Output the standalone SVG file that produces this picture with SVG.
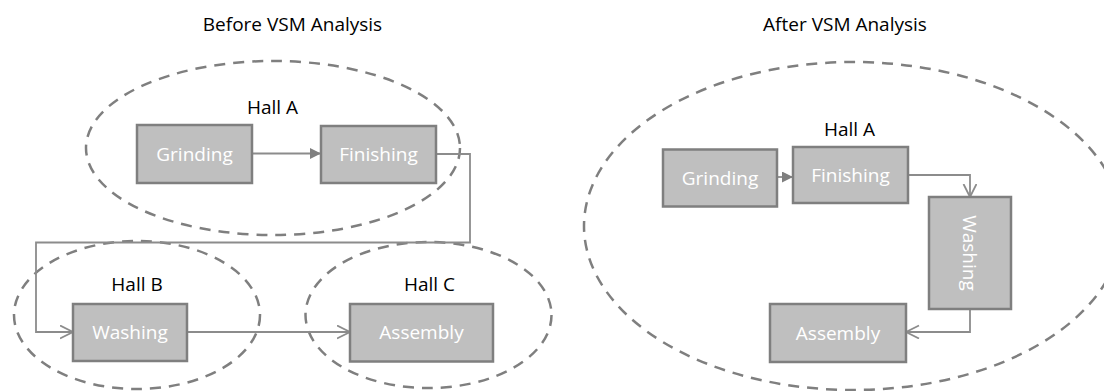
<svg xmlns="http://www.w3.org/2000/svg" width="1104" height="391" viewBox="0 0 1104 391">
<style>
text{font-family:"Open Sans","Noto Sans","Liberation Sans",sans-serif;font-size:19px;text-anchor:middle}
.title,.hall{fill:#000}
.lbl{fill:#ffffff}
.box{fill:#BFBFBF;stroke:#7F7F7F;stroke-width:2.5}
.zone{fill:none;stroke:#7F7F7F;stroke-width:2.5;stroke-dasharray:11 8}
.conn{fill:none;stroke:#8C8C8C;stroke-width:1.8}
</style>
<defs>
<marker id="tri" markerUnits="userSpaceOnUse" markerWidth="12" markerHeight="12" refX="11" refY="5.5" orient="auto">
<path d="M0,0 L11,5.5 L0,11 z" fill="#7F7F7F"/>
</marker>
<marker id="vee" markerUnits="userSpaceOnUse" markerWidth="16" markerHeight="16" refX="13.5" refY="7" orient="auto">
<path d="M0.5,0.5 L13.5,7 L0.5,13.5" fill="none" stroke="#8C8C8C" stroke-width="1.8"/>
</marker>
</defs>
<rect width="1104" height="391" fill="#ffffff"/>

<g id="titles">
<text class="title" x="292.5" y="31">Before VSM Analysis</text>
<text class="title" x="845" y="31">After VSM Analysis</text>
</g>

<g id="hall-a-before">
<ellipse class="zone" cx="273" cy="148" rx="187" ry="87"/>
<text class="hall" x="272.5" y="114">Hall A</text>
</g>
<g id="hall-b-before">
<ellipse class="zone" cx="137" cy="315" rx="123" ry="74"/>
<text class="hall" x="137" y="291">Hall B</text>
</g>
<g id="hall-c-before">
<ellipse class="zone" cx="428.5" cy="315" rx="123" ry="73"/>
<text class="hall" x="429.5" y="291">Hall C</text>
</g>
<g id="hall-a-after">
<ellipse class="zone" cx="853" cy="226" rx="269" ry="164"/>
<text class="hall" x="849.5" y="136">Hall A</text>
</g>

<g id="connectors">
<path class="conn" d="M252,153.5 H321" marker-end="url(#tri)"/>
<path class="conn" d="M436,154 H470 V242.5 H36 V332 H73" marker-end="url(#vee)"/>
<path class="conn" d="M187,332 H350" marker-end="url(#vee)"/>
<path class="conn" d="M777,177 H793" marker-end="url(#tri)"/>
<path class="conn" d="M908,175 H970 V197" marker-end="url(#vee)"/>
<path class="conn" d="M970,309 V332 H906" marker-end="url(#vee)"/>
</g>

<g id="grinding-before">
<rect class="box" x="137" y="125" width="115" height="58"/>
<text class="lbl" x="194.5" y="161">Grinding</text>
</g>
<g id="finishing-before">
<rect class="box" x="321" y="126" width="115" height="57"/>
<text class="lbl" x="378.5" y="161">Finishing</text>
</g>
<g id="washing-before">
<rect class="box" x="73" y="304" width="114" height="57"/>
<text class="lbl" x="130" y="339">Washing</text>
</g>
<g id="assembly-before">
<rect class="box" x="350" y="304" width="143" height="57.5"/>
<text class="lbl" x="421.5" y="339">Assembly</text>
</g>

<g id="grinding-after">
<rect class="box" x="663" y="149.5" width="114" height="57"/>
<text class="lbl" x="720" y="185">Grinding</text>
</g>
<g id="finishing-after">
<rect class="box" x="793" y="147" width="115" height="56"/>
<text class="lbl" x="850.5" y="182">Finishing</text>
</g>
<g id="washing-after">
<rect class="box" x="929" y="197" width="82" height="112"/>
<text class="lbl" transform="translate(970 253) rotate(90)" x="0" y="7">Washing</text>
</g>
<g id="assembly-after">
<rect class="box" x="770" y="304" width="136" height="58"/>
<text class="lbl" x="838" y="340">Assembly</text>
</g>
</svg>
